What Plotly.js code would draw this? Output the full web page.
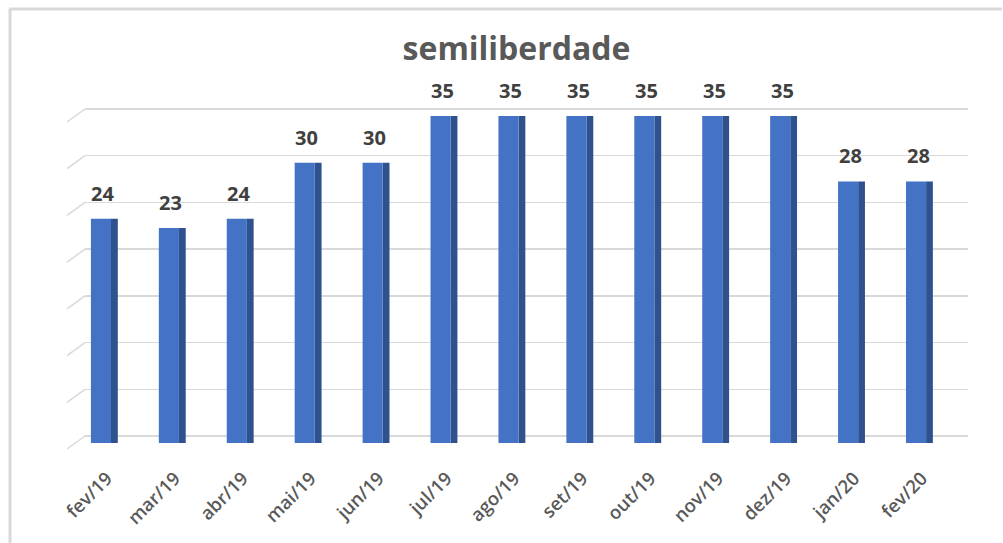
<!DOCTYPE html>
<html>
<head>
<meta charset="utf-8">
<script src="https://cdn.plot.ly/plotly-3.0.1.min.js"></script>
<style>html,body{margin:0;padding:0;background:#fff;}#chart{width:1003px;height:543px;}</style>
</head>
<body>
<div id="chart"></div>
<script>
const months = ["fev/19","mar/19","abr/19","mai/19","jun/19","jul/19","ago/19","set/19","out/19","nov/19","dez/19","jan/20","fev/20"];
const values = [24, 23, 24, 30, 30, 35, 35, 35, 35, 35, 35, 28, 28];
const gridValues = [0, 5, 10, 15, 20, 25, 30, 35];
const chartTitle = "semiliberdade";

const W = 1003, H = 543;
const mL = 67, mR = 35, mT = 90, mB = 86;
const plotW = W - mL - mR, plotH = H - mT - mB;
const plotBottom = H - mB;
const wallDx = 18;
const k = 9.343;          // pixels per unit
const barBase = 443;      // pixel of value 0 on the bars
const gridBase = 436;     // pixel of value 0 on the back wall
const yMax = 37;
const gridMin = -2;

const barDomain = [(plotBottom - barBase) / plotH, (plotBottom - (barBase - yMax * k)) / plotH];
const gridDomain = [Math.max(0, (plotBottom - (gridBase - gridMin * k)) / plotH), Math.min(1, (plotBottom - (gridBase - yMax * k)) / plotH)];

// back wall (gridlines) subplot: x / y  -> drawn first, behind bars
const wall = {
  type: "scatter", mode: "markers", x: months, y: values,
  marker: {opacity: 0}, hoverinfo: "skip", xaxis: "x", yaxis: "y", showlegend: false
};
// bars subplot: x2 / y2
const side = {
  type: "bar", x: months, y: values,
  marker: {color: "#2F528F"},
  width: 0.1, offset: 0.148,
  hoverinfo: "skip", xaxis: "x2", yaxis: "y2"
};
const front = {
  type: "bar", x: months, y: values,
  marker: {color: "#4472C4"},
  width: 0.296, offset: -0.148,
  hoverinfo: "x+y", xaxis: "x2", yaxis: "y2"
};

const annotations = months.map((m, i) => ({
  x: m, y: values[i], xref: "x2", yref: "y2",
  text: String(values[i]), showarrow: false,
  yanchor: "bottom", yshift: 10, xshift: 2,
  font: {family: "Open Sans, sans-serif", size: 20, color: "#404040", weight: 700}
}));

const shapes = gridValues.map(v => ({
  type: "line", xref: "paper", yref: "y",
  xsizemode: "pixel", ysizemode: "pixel",
  xanchor: wallDx / plotW, yanchor: v,
  x0: -wallDx, x1: 0, y0: -13, y1: 0,
  line: {color: "#d9d9d9", width: 1.5}
}));
// chart frame (top and left edge)
shapes.push({type: "line", xref: "paper", yref: "paper",
  x0: (9 - mL) / plotW, x1: (1002 - mL) / plotW,
  y0: (plotBottom - 9) / plotH, y1: (plotBottom - 9) / plotH,
  line: {color: "#d9d9d9", width: 3}});
shapes.push({type: "line", xref: "paper", yref: "paper",
  x0: (10 - mL) / plotW, x1: (10 - mL) / plotW,
  y0: (plotBottom - 9) / plotH, y1: (plotBottom - 545) / plotH,
  line: {color: "#d9d9d9", width: 3}});

const layout = {
  width: W, height: H,
  margin: {l: mL, r: mR, t: mT, b: mB, pad: 0},
  paper_bgcolor: "#ffffff", plot_bgcolor: "rgba(0,0,0,0)",
  showlegend: false, barmode: "overlay",
  title: {text: chartTitle, x: 0.515, xanchor: "center", y: 0.91, yanchor: "middle",
    font: {family: "Open Sans, sans-serif", size: 32, color: "#595959", weight: 700}},
  xaxis: {type: "category", domain: [wallDx / plotW, 1], range: [-0.5, 12.5],
    showgrid: false, zeroline: false, showticklabels: false, showline: false, ticks: "", anchor: "y"},
  yaxis: {domain: gridDomain, range: [gridMin, yMax], dtick: 5, tick0: 0,
    showgrid: true, gridcolor: "#d9d9d9", gridwidth: 1.5, zeroline: false,
    showticklabels: false, showline: false, ticks: "", anchor: "x"},
  xaxis2: {type: "category", domain: [0, (plotW - wallDx) / plotW], range: [-0.5, 12.5],
    tickangle: -45, showgrid: false, zeroline: false, showline: false, ticks: "",
    ticklabelstandoff: 20, ticklabelshift: 6,
    tickfont: {family: "Open Sans, sans-serif", size: 18.5, color: "#595959", weight: 600},
    anchor: "y2"},
  yaxis2: {domain: barDomain, range: [0, yMax], showgrid: false, zeroline: false,
    showticklabels: false, showline: false, ticks: "", anchor: "x2"},
  annotations: annotations,
  shapes: shapes
};

Plotly.newPlot("chart", [wall, side, front], layout, {displayModeBar: false, staticPlot: true});
</script>
</body>
</html>
